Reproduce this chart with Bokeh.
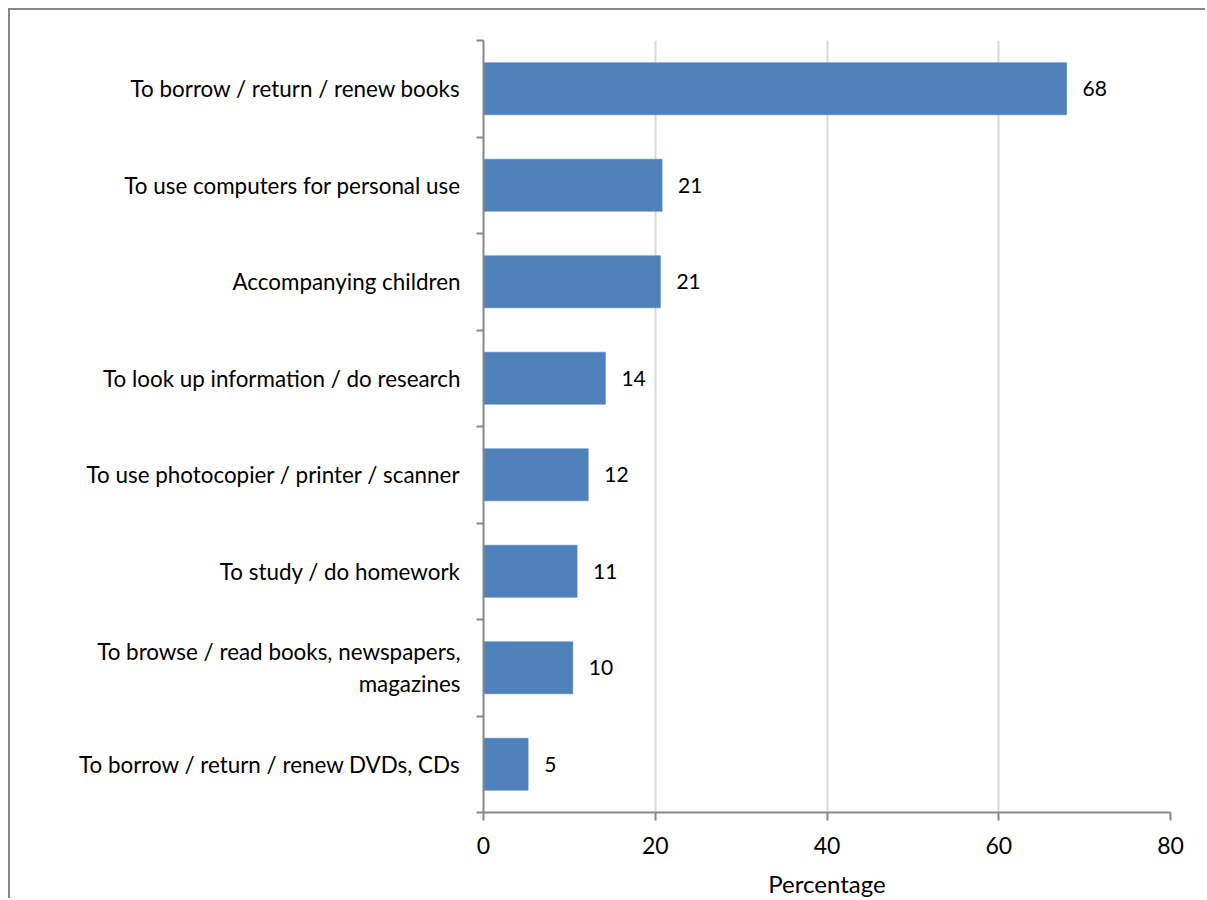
from bokeh.plotting import figure
from bokeh.models import ColumnDataSource, FixedTicker, Range1d
from bokeh.core.properties import value
from bokeh.embed import file_html
from bokeh.resources import INLINE

categories = [
    "To borrow / return / renew books",
    "To use computers for personal use",
    "Accompanying children",
    "To look up information / do research",
    "To use photocopier / printer / scanner",
    "To study / do homework",
    "To browse / read books, newspapers,\nmagazines",
    "To borrow / return / renew DVDs, CDs",
]
values = [67.9, 20.8, 20.6, 14.2, 12.2, 10.9, 10.4, 5.2]
x_ticks = [0, 20, 40, 60, 80]

n = len(categories)
ypos = [n - i for i in range(n)]
labels = [str(int(round(v))) for v in values]

src = ColumnDataSource(dict(y=ypos, v=values, lab=labels))

FONT = "Lato"
GRAY = "#878787"

p = figure(width=1197, height=890, output_backend="svg", toolbar_location=None,
           x_range=Range1d(0, 80), y_range=Range1d(0.5, n + 0.5),
           min_border_left=473, min_border_right=37, min_border_top=30, min_border_bottom=88)
p.styles = {"margin-left": "8px", "margin-top": "8px",
            "border-left": f"2px solid {GRAY}", "border-top": f"2px solid {GRAY}"}
p.outline_line_color = None
p.background_fill_color = "white"
p.border_fill_color = "white"

p.hbar(y="y", right="v", left=0, height=0.54, source=src,
       fill_color="#4F81BD", line_color="#4A7EBB", line_width=0.5)
p.text(x="v", y="y", text="lab", source=src, x_offset=16,
       text_baseline="middle", text_align="left",
       text_font=value(FONT), text_font_size="21px", text_color="black")

# x axis
xa = p.xaxis[0]
xa.ticker = FixedTicker(ticks=x_ticks, minor_ticks=[])
xa.axis_line_color = GRAY
xa.axis_line_width = 2
xa.major_tick_line_color = GRAY
xa.major_tick_line_width = 2
xa.major_tick_out = 8
xa.major_tick_in = 0
xa.minor_tick_line_color = None
xa.major_label_text_font = FONT
xa.major_label_text_font_size = "23px"
xa.major_label_text_color = "black"
xa.major_label_standoff = 16
xa.axis_label = "Percentage"
xa.axis_label_text_font = FONT
xa.axis_label_text_font_size = "24px"
xa.axis_label_text_font_style = "normal"
xa.axis_label_text_color = "black"
xa.axis_label_standoff = 12

# y axis: labels at band centres, ticks at band boundaries
ya = p.yaxis[0]
ya.ticker = FixedTicker(ticks=ypos, minor_ticks=[k + 0.5 for k in range(n + 1)])
ya.major_label_overrides = {y: c for y, c in zip(ypos, categories)}
ya.axis_line_color = GRAY
ya.axis_line_width = 2
ya.major_tick_line_color = None
ya.major_tick_out = 0
ya.major_tick_in = 0
ya.minor_tick_line_color = GRAY
ya.minor_tick_line_width = 2
ya.minor_tick_out = 7
ya.minor_tick_in = 0
ya.major_label_text_font = FONT
ya.major_label_text_font_size = "22.4px"
ya.major_label_text_color = "black"
ya.major_label_standoff = 16

p.xgrid.ticker = FixedTicker(ticks=x_ticks)
p.xgrid.grid_line_color = "#D9D9D9"
p.xgrid.grid_line_width = 2
p.ygrid.grid_line_color = None

open("out.html", "w").write(file_html(p, INLINE))
